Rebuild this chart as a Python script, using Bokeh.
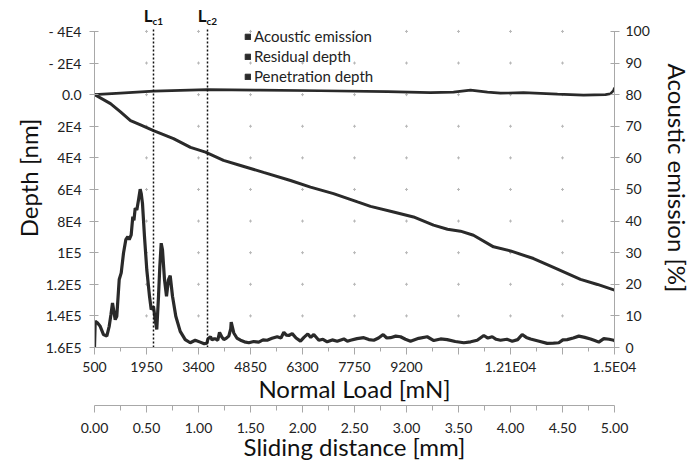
import numpy as np
from bokeh.plotting import figure
from bokeh.models import (Range1d, LinearAxis, FixedTicker, Label, Legend,
                          LegendItem, NumeralTickFormatter)
from bokeh.embed import file_html
from bokeh.resources import INLINE

# ---------------- data ----------------
load_ticks = [500, 1950, 3400, 4850, 6300, 7750, 9200, 10650, 12100, 13550, 15000]
load_tick_labels = ["500", "1950", "3400", "4850", "6300", "7750", "9200", "", "1.21E04", "", "1.5E04"]
depth_ticks = [-40000, -20000, 0, 20000, 40000, 60000, 80000, 100000, 120000, 140000, 160000]
depth_tick_labels = ["- 4E4", "- 2E4", "0.0", "2E4", "4E4", "6E4", "8E4", "1E5", "1.2E5", "1.4E5", "1.6E5"]
ae_ticks = [0, 10, 20, 30, 40, 50, 60, 70, 80, 90, 100]
slide_ticks = [0.0, 0.5, 1.0, 1.5, 2.0, 2.5, 3.0, 3.5, 4.0, 4.5, 5.0]

lc_loads = [2145, 3651]
lc_subs = ["c1", "c2"]

legend_labels = ["Acoustic emission", "Residual depth", "Penetration depth"]

pen_load = [500, 946, 1225, 1504, 1783, 2145, 2703, 3177, 3595, 4097,
            4571, 5213, 5965, 6523, 7164, 7834, 8196, 8838, 9395, 9953,
            10343, 10706, 11068, 11626, 12100, 12742, 13299, 14052, 14526, 15000]
pen_depth = [0, 5680, 10900, 16400, 19100, 22700, 27800, 33400, 36400, 41600,
             44800, 49200, 54300, 58500, 62600, 67900, 70700, 74300, 77400, 82600,
             85200, 86400, 89000, 96300, 98900, 103700, 109300, 116900, 120100, 123700]

res_load = [500, 1225, 2145, 3651, 5129, 6802, 8670, 9869, 10510, 10985,
            11459, 11821, 12462, 13411, 14136, 14749, 14889, 14972, 15000]
res_depth = [0, -950, -2200, -3150, -2850, -2500, -1900, -1260, -1580, -2840,
             -1580, -950, -1260, -300, 300, 0, -600, -2500, -4400]

ae_load = [500, 520, 580, 659, 751, 843, 910, 960, 1002, 1040,
           1077, 1122, 1189, 1245, 1309, 1373, 1429, 1468, 1523, 1568,
           1600, 1635, 1680, 1727, 1774, 1802, 1838, 1894, 1958, 2034,
           2081, 2145, 2193, 2237, 2285, 2321, 2360, 2396, 2452, 2508,
           2563, 2611, 2675, 2767, 2890, 3029, 3169, 3308, 3447, 3560,
           3634, 3660, 3698, 3735, 3780, 3818, 3874, 3938, 3986, 4050,
           4106, 4180, 4245, 4300, 4312, 4384, 4470, 4571, 4680, 4803,
           4940, 5081, 5200, 5316, 5450, 5595, 5700, 5779, 5850, 5918,
           6013, 6120, 6244, 6340, 6448, 6530, 6615, 6755, 6870, 6989,
           7130, 7268, 7452, 7550, 7639, 7820, 8009, 8150, 8288, 8420,
           8550, 8650, 8754, 8900, 9033, 9170, 9312, 9540, 9777, 9961,
           10150, 10335, 10560, 10798, 10990, 11171, 11356, 11470, 11590, 11700,
           11821, 12000, 12148, 12300, 12426, 12540, 12658, 12900, 13124, 13300,
           13447, 13560, 13681, 13850, 14005, 14170, 14331, 14450, 14562, 14702,
           14850, 14980, 15000]
ae_value = [0, 8.3, 7.8, 6.7, 4.1, 3.6, 6.7, 10.5, 14.1, 11.5,
            8.8, 9.9, 21.5, 23.6, 29.9, 34.1, 35.1, 34.1, 35.6, 41.4,
            40.2, 44.1, 43.5, 46.7, 50.1, 48.8, 45.6, 35.1, 24.6, 16.2,
            12.0, 13.0, 8.8, 5.7, 16.2, 25.6, 33.0, 30.9, 21.5, 16.2,
            21.5, 22.7, 16.2, 9.9, 5.1, 2.5, 1.5, 2.3, 1.7, 1.2,
            1.4, 2.6, 3.1, 3.4, 2.4, 2.7, 2.7, 2.3, 4.8, 3.3,
            2.5, 3.0, 3.6, 6.0, 8.0, 4.6, 3.0, 2.3, 1.8, 1.5,
            1.9, 1.7, 2.4, 2.3, 2.9, 3.4, 3.0, 4.8, 3.9, 3.8,
            4.4, 3.0, 2.0, 3.2, 4.3, 3.2, 4.1, 2.3, 2.6, 1.8,
            2.4, 2.0, 2.7, 2.0, 2.3, 2.8, 3.1, 2.5, 2.3, 3.0,
            4.1, 3.0, 3.1, 3.6, 3.4, 2.6, 2.0, 2.9, 3.4, 2.2,
            2.7, 2.5, 1.9, 1.5, 1.8, 2.3, 3.8, 3.0, 3.4, 2.6,
            2.3, 2.6, 2.0, 2.5, 4.1, 3.2, 2.7, 2.0, 1.3, 1.4,
            1.5, 2.4, 2.5, 3.0, 3.6, 3.2, 2.7, 2.2, 1.7, 2.8,
            2.6, 2.3, 2.0]

# ---------------- layout / style ----------------
FONT = "Lato"
INK = "#2a2a2a"
TXT = "#222222"
AXC = "#a8a8a8"

TOP = 8            # frame top (px); the axes themselves start 23 px lower
AXIS_H = 317       # pixel height of the labelled depth / AE span
HEAD = 23          # free band above the axes, kept inside the frame for the L_c labels
depth_top = depth_ticks[0] - HEAD * (depth_ticks[-1] - depth_ticks[0]) / AXIS_H
ae_top = ae_ticks[-1] + HEAD * (ae_ticks[-1] - ae_ticks[0]) / AXIS_H

p = figure(width=694, height=463, output_backend="svg", toolbar_location=None,
           x_range=Range1d(load_ticks[0], load_ticks[-1]),
           y_range=Range1d(depth_ticks[-1], depth_top),
           min_border_left=94, min_border_right=80, min_border_top=TOP, min_border_bottom=115)
p.outline_line_color = None
p.xgrid.visible = False
p.ygrid.visible = False
p.extra_y_ranges = {"ae": Range1d(ae_ticks[0], ae_top)}
p.extra_x_ranges = {"slide": Range1d(slide_ticks[0], slide_ticks[-1])}

# grid dots at major tick intersections
gx, gy = np.meshgrid(load_ticks[1:-1], depth_ticks[:-1])
p.scatter(gx.ravel(), gy.ravel(), marker="cross", size=3, line_color="#b8b8b8", line_width=1)

# data lines
p.line(pen_load, pen_depth, line_color=INK, line_width=3)
p.line(res_load, res_depth, line_color=INK, line_width=2.6)
p.line(ae_load, ae_value, line_color=INK, line_width=3.2, y_range_name="ae")

# critical loads: dotted verticals and L_c labels
p.segment(x0=lc_loads, x1=lc_loads, y0=[ae_ticks[0]] * len(lc_loads),
          y1=[ae_ticks[-1] + 0.7] * len(lc_loads), y_range_name="ae",
          line_color="#111111", line_dash="2 2", line_width=1.5)
for lc, sub in zip(lc_loads, lc_subs):
    p.add_layout(Label(x=lc, y=101.7, y_range_name="ae", text="L", x_offset=-1,
                       text_align="right", text_font=FONT, text_font_style="bold",
                       text_font_size="17px", text_color="#111111"))
    p.add_layout(Label(x=lc, y=101.3, y_range_name="ae", text=sub, x_offset=-1,
                       text_align="left", text_font=FONT, text_font_style="bold",
                       text_font_size="10px", text_color="#111111"))

# legend (square swatches); renderers carry no visible data
items = []
for lab in legend_labels:
    r = p.quad(left=np.array([np.nan]), right=np.array([np.nan]),
               top=np.array([np.nan]), bottom=np.array([np.nan]),
               fill_color=INK, line_color=INK)
    items.append(LegendItem(label=lab, renderers=[r]))
leg = Legend(items=items, location=(150, 261), glyph_width=7, glyph_height=7,
             label_height=20, spacing=0, padding=0, margin=0, label_standoff=3,
             border_line_color=None, background_fill_alpha=0,
             label_text_font=FONT, label_text_font_size="15px", label_text_color=TXT)
p.add_layout(leg)

def style_axis(ax, tick_in, tick_out, minor_out=0):
    ax.axis_line_color = AXC
    ax.major_tick_line_color = AXC
    ax.minor_tick_line_color = AXC
    ax.major_tick_in = tick_in
    ax.major_tick_out = tick_out
    ax.minor_tick_in = 0
    ax.minor_tick_out = minor_out
    ax.major_label_text_font = FONT
    ax.major_label_text_font_size = "14px"
    ax.major_label_text_color = TXT
    ax.axis_label_text_font = FONT
    ax.axis_label_text_font_size = "24px"
    ax.axis_label_text_font_style = "normal"
    ax.axis_label_text_color = "#111111"

# bottom: normal load
xa = p.xaxis[0]
load_minor = [(a + b) / 2 for a, b in zip(load_ticks[:-1], load_ticks[1:])]
xa.ticker = FixedTicker(ticks=load_ticks, minor_ticks=load_minor)
xa.major_label_overrides = {t: l for t, l in zip(load_ticks, load_tick_labels)}
xa.axis_label = "Normal Load [mN]"
style_axis(xa, 0, 7, 4)
xa.major_label_standoff = 3
xa.axis_label_standoff = -4

# spacer between the two bottom axes (one invisible tiny label gives it height)
sp = LinearAxis(x_range_name="slide", ticker=FixedTicker(ticks=[slide_ticks[5]]),
                axis_line_color=None, major_tick_line_color=None, minor_tick_line_color=None,
                major_tick_out=0, major_tick_in=0, minor_tick_out=0, minor_tick_in=0,
                major_label_text_alpha=0, major_label_text_font_size="1px",
                major_label_standoff=3)
p.add_layout(sp, "below")

# bottom: sliding distance
sa = LinearAxis(x_range_name="slide")
slide_minor = [(a + b) / 2 for a, b in zip(slide_ticks[:-1], slide_ticks[1:])]
sa.ticker = FixedTicker(ticks=slide_ticks, minor_ticks=slide_minor)
sa.formatter = NumeralTickFormatter(format="0.00")
sa.axis_label = "Sliding distance [mm]"
style_axis(sa, 0, 7, 5)
sa.major_label_standoff = 10
sa.axis_label_standoff = -4
p.add_layout(sa, "below")

# left: depth
ya = p.yaxis[0]
ya.ticker = FixedTicker(ticks=depth_ticks)
ya.bounds = (depth_ticks[0], depth_ticks[-1])
ya.major_label_overrides = {t: l for t, l in zip(depth_ticks, depth_tick_labels)}
ya.axis_label = "Depth [nm]"
style_axis(ya, 4, 5)
ya.major_label_standoff = 8
ya.axis_label_standoff = 0

# right: acoustic emission
ra = LinearAxis(y_range_name="ae")
ra.ticker = FixedTicker(ticks=ae_ticks)
ra.bounds = (ae_ticks[0], ae_ticks[-1])
ra.axis_label = "Acoustic emission [%]"
style_axis(ra, 4, 5)
ra.major_label_standoff = 6
ra.axis_label_standoff = 10
p.add_layout(ra, "right")

open("out.html", "w").write(file_html(p, INLINE))
